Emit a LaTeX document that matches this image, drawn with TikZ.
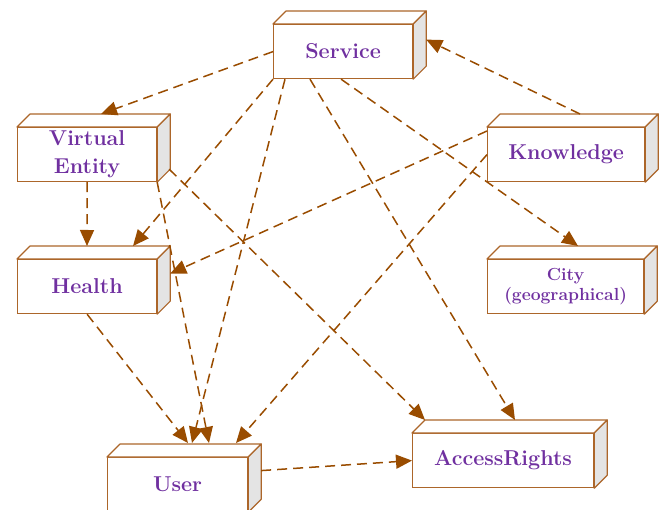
\documentclass[tikz,border=0pt]{standalone}
\usepackage{fontspec}
\usetikzlibrary{arrows.meta}

\definecolor{arrowbrown}{RGB}{153,76,0}
\definecolor{boxline}{RGB}{172,102,42}
\definecolor{labelpurple}{RGB}{112,48,160}
\definecolor{sideface}{RGB}{228,228,228}

\tikzset{
  thing/.style={draw=boxline, fill=white, line width=1.2pt, text=labelpurple,
    font=\fontsize{21.5}{28}\selectfont\bfseries, align=center, inner sep=0pt,
    minimum height=54pt, anchor=north west},
  face/.style={draw=boxline, line width=1.2pt, line join=round},
  dep/.style={draw=arrowbrown, line width=1.5pt, dash pattern=on 10pt off 6pt,
    -{Triangle[length=16pt,width=14pt]}},
}

% box with a top face and a shaded side face
\newcommand{\umlnode}[5][]{%
  \node[thing, minimum width=#4, #1] (#2) at #3 {#5};
  \draw[face, fill=white] (#2.north west) -- ++(13,-13)
    -- ([shift={(13,-13)}]#2.north east) -- (#2.north east) -- cycle;
  \draw[face, fill=sideface] (#2.north east) -- ++(13,-13)
    -- ([shift={(13,-13)}]#2.south east) -- (#2.south east) -- cycle;
}

\begin{document}
\begin{tikzpicture}[x=1pt, y=-1pt]
\useasboundingbox (0,0) rectangle (664,510);

\umlnode{svc}{(273,24)}{139pt}{Service}
\umlnode{ve}{(17,127)}{139pt}{Virtual\\Entity}
\umlnode{kn}{(487,127)}{157pt}{Knowledge}
\umlnode{health}{(17,259)}{139pt}{Health}
\umlnode[font=\fontsize{17.5}{20}\selectfont\bfseries]{city}{(487,259)}{156pt}{City\\(geographical)}
\umlnode{user}{(107,457)}{140pt}{User}
\umlnode{ar}{(412,433)}{181pt}{AccessRights}

% dependencies
\draw[dep] (svc.west) -- ([shift={(84,-13)}]ve.north west);
\draw[dep] ([shift={(93,-13)}]kn.north west) -- ([shift={(13,-12)}]svc.east);
\draw[dep] ([xshift=-2pt]svc.south) -- ([shift={(91,-13)}]city.north west);
\draw[dep] (svc.south west) -- ([shift={(116,-13)}]health.north west);
\draw[dep] ([shift={(12,0)}]svc.south west) -- ([shift={(85,-14)}]user.north west);
\draw[dep] ([shift={(37,0)}]svc.south west) -- ([shift={(103,-13)}]ar.north west);
\draw[dep] (ve.south) -- ([shift={(70,-13)}]health.north west);
\draw[dep] (ve.south east) -- ([shift={(102,-14)}]user.north west);
\draw[dep] ([shift={(12,-13)}]ve.south east) -- ([shift={(13,-13)}]ar.north west);
\draw[dep] ([shift={(0,4)}]kn.north west) -- ([shift={(13,-13)}]health.east);
\draw[dep] (kn.west) -- ([shift={(129,-14)}]user.north west);
\draw[dep] (health.south) -- ([shift={(81,-14)}]user.north west);
\draw[dep] ([shift={(13,-14)}]user.east) -- (ar.west);

\end{tikzpicture}
\end{document}
